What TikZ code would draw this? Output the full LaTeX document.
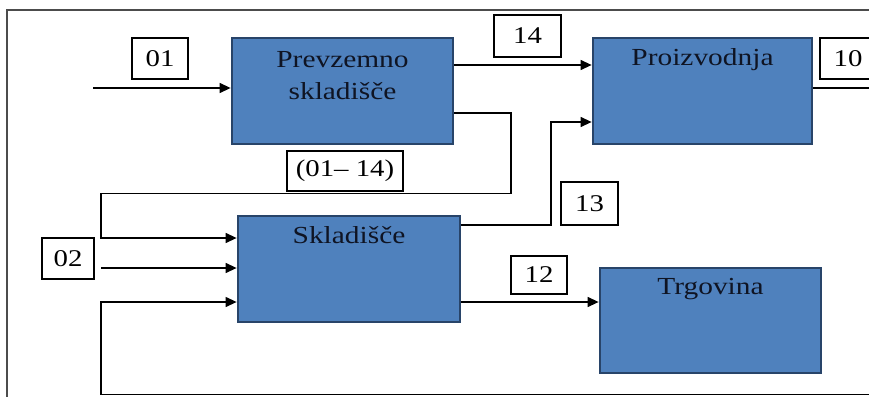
\documentclass[tikz,border=0pt]{standalone}
\usepackage{fontspec}
\setmainfont{Liberation Serif}[FakeStretch=1.2]
\usetikzlibrary{arrows.meta}
\definecolor{boxfill}{RGB}{79,129,189}
\definecolor{boxedge}{RGB}{40,68,105}
\definecolor{txt}{RGB}{15,20,35}
\tikzset{
  blk/.style={draw=boxedge, fill=boxfill, line width=2.8pt, minimum width=#1, inner sep=0pt},
  blktext/.style={anchor=base, text=txt, font=\fontsize{24.5}{32}\selectfont, align=center, inner sep=0pt},
  lbl/.style={draw=black, line width=1.2pt, fill=white, inner sep=0pt, font=\fontsize{24}{28}\selectfont},
  conn/.style={draw=black, line width=1.3pt},
  arr/.style={conn, -{Triangle[length=11pt,width=10pt]}},
  frame/.style={draw=black!70, line width=1.6pt}
}
\begin{document}
\begin{tikzpicture}[x=1pt,y=-1pt]
\useasboundingbox (0,0) rectangle (869,396);
\clip (0,0) rectangle (869,396);
\fill[white] (0,0) rectangle (869,396);
\draw[frame] (7,398) -- (7,10) -- (872,10);

% main blocks
\node[blk=221pt, minimum height=106pt] (prev) at (342.5,91) {};
\node[blk=219pt, minimum height=106pt] (proiz) at (702.5,91) {};
\node[blk=222pt, minimum height=106pt] (sklad) at (349,269) {};
\node[blk=221pt, minimum height=105pt] (trg) at (710.5,320.5) {};

\node[blktext] (prevt) at (342.5,67) {Prevzemno};
\node[blktext] (prevt2) at (342.5,99) {skladišče};
\node[blktext] (proizt) at (702.5,65) {Proizvodnja};
\node[blktext] (skladt) at (349,243) {Skladišče};
\node[blktext] (trgt) at (710.5,294) {Trgovina};

% label boxes
\node[lbl, minimum width=56pt, minimum height=41pt] (l01) at (160,58.5) {01};
\node[lbl, minimum width=116pt, minimum height=40pt] (l0114) at (345,171) {(01– 14)};
\node[lbl, minimum width=67pt, minimum height=42pt] (l14) at (527.5,36) {14};
\node[lbl, minimum width=56pt, minimum height=41pt] (l10) at (848,58.5) {10};
\node[lbl, minimum width=57pt, minimum height=43pt] (l13) at (589.5,203.5) {13};
\node[lbl, minimum width=56pt, minimum height=38pt] (l12) at (539,275) {12};
\node[lbl, minimum width=52pt, minimum height=41pt] (l02) at (68,258.5) {02};

% free ends and bends
\coordinate (in01) at (93,88);
\coordinate (out10) at (872,88);
\coordinate (b1) at (511,193.5);
\coordinate (b2) at (101,238);
\coordinate (in02) at (101,268);
\coordinate (fbstart) at (872,394.5);
\coordinate (fb) at (101,302);
\coordinate (b13) at (551,122);

% connectors
\draw[arr] (in01) -- (in01 -| prev.west);
\draw[arr] (prev.east |- 0,65) -- (proiz.west |- 0,65);
\draw[conn] (proiz.east |- out10) -- (out10);
\draw[arr] (prev.east |- 0,113) -| (b1) -| (b2) -- (b2 -| sklad.west);
\draw[arr] (in02) -- (in02 -| sklad.west);
\draw[arr] (fbstart) -| (fb) -- (fb -| sklad.west);
\draw[arr] (sklad.east |- 0,225) -| (b13) -- (b13 -| proiz.west);
\draw[arr] (sklad.east |- 0,302) -- (trg.west |- 0,302);
\end{tikzpicture}
\end{document}
